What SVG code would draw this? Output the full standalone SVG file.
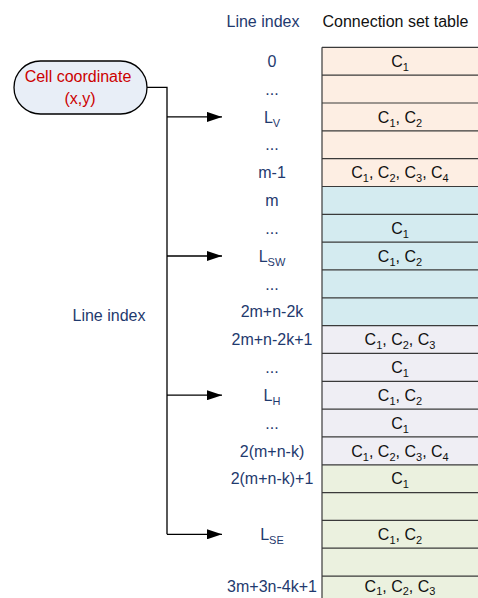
<svg xmlns="http://www.w3.org/2000/svg" width="478" height="598" viewBox="0 0 478 598">
<defs>
<marker id="ah" markerWidth="15" markerHeight="10" refX="15" refY="5" orient="auto" markerUnits="userSpaceOnUse">
<path d="M0,0 L15,5 L0,10 Z" fill="#000"/>
</marker>
<style>
text{font-family:"Liberation Sans",Arial,sans-serif;font-size:16px}
.idx{fill:#1F3A6E;text-anchor:middle}
.tb{fill:#111;text-anchor:middle}
.hd{fill:#111}
.sub{font-size:11px}
.row{stroke:#3a3a3a;stroke-width:1.2}
.conn{fill:none;stroke:#000;stroke-width:1.3}
</style>
</defs>
<rect width="478" height="598" fill="#fff"/>

<g id="table">
<rect x="322" y="47.3" width="160" height="139.2" fill="#FDEEE3"/>
<rect x="322" y="186.5" width="160" height="139.2" fill="#D4EBF0"/>
<rect x="322" y="325.6" width="160" height="139.2" fill="#EFEEF4"/>
<rect x="322" y="464.8" width="160" height="139.2" fill="#EBF1DF"/>
<line class="row" x1="322" y1="47.3" x2="478" y2="47.3" stroke-width="1.6"/>
<line class="row" x1="322" y1="75.1" x2="478" y2="75.1"/>
<line class="row" x1="322" y1="103" x2="478" y2="103"/>
<line class="row" x1="322" y1="130.8" x2="478" y2="130.8"/>
<line class="row" x1="322" y1="158.6" x2="478" y2="158.6"/>
<line class="row" x1="322" y1="186.5" x2="478" y2="186.5"/>
<line class="row" x1="322" y1="214.3" x2="478" y2="214.3"/>
<line class="row" x1="322" y1="242.1" x2="478" y2="242.1"/>
<line class="row" x1="322" y1="269.9" x2="478" y2="269.9"/>
<line class="row" x1="322" y1="297.8" x2="478" y2="297.8"/>
<line class="row" x1="322" y1="325.6" x2="478" y2="325.6"/>
<line class="row" x1="322" y1="353.4" x2="478" y2="353.4"/>
<line class="row" x1="322" y1="381.3" x2="478" y2="381.3"/>
<line class="row" x1="322" y1="409.1" x2="478" y2="409.1"/>
<line class="row" x1="322" y1="436.9" x2="478" y2="436.9"/>
<line class="row" x1="322" y1="464.8" x2="478" y2="464.8"/>
<line class="row" x1="322" y1="492.6" x2="478" y2="492.6"/>
<line class="row" x1="322" y1="520.4" x2="478" y2="520.4"/>
<line class="row" x1="322" y1="548.2" x2="478" y2="548.2"/>
<line class="row" x1="322" y1="576.1" x2="478" y2="576.1"/>
<line class="row" x1="322" y1="47.3" x2="322" y2="598"/>

<text class="tb" x="400" y="66.9">C<tspan class="sub" dy="4">1</tspan></text>
<text class="tb" x="400" y="122.6">C<tspan class="sub" dy="4">1</tspan><tspan dy="-4">, C</tspan><tspan class="sub" dy="4">2</tspan></text>
<text class="tb" x="400" y="178.2">C<tspan class="sub" dy="4">1</tspan><tspan dy="-4">, C</tspan><tspan class="sub" dy="4">2</tspan><tspan dy="-4">, C</tspan><tspan class="sub" dy="4">3</tspan><tspan dy="-4">, C</tspan><tspan class="sub" dy="4">4</tspan></text>
<text class="tb" x="400" y="233.9">C<tspan class="sub" dy="4">1</tspan></text>
<text class="tb" x="400" y="261.7">C<tspan class="sub" dy="4">1</tspan><tspan dy="-4">, C</tspan><tspan class="sub" dy="4">2</tspan></text>
<text class="tb" x="400" y="345.2">C<tspan class="sub" dy="4">1</tspan><tspan dy="-4">, C</tspan><tspan class="sub" dy="4">2</tspan><tspan dy="-4">, C</tspan><tspan class="sub" dy="4">3</tspan></text>
<text class="tb" x="400" y="373">C<tspan class="sub" dy="4">1</tspan></text>
<text class="tb" x="400" y="400.9">C<tspan class="sub" dy="4">1</tspan><tspan dy="-4">, C</tspan><tspan class="sub" dy="4">2</tspan></text>
<text class="tb" x="400" y="428.7">C<tspan class="sub" dy="4">1</tspan></text>
<text class="tb" x="400" y="456.5">C<tspan class="sub" dy="4">1</tspan><tspan dy="-4">, C</tspan><tspan class="sub" dy="4">2</tspan><tspan dy="-4">, C</tspan><tspan class="sub" dy="4">3</tspan><tspan dy="-4">, C</tspan><tspan class="sub" dy="4">4</tspan></text>
<text class="tb" x="400" y="484.4">C<tspan class="sub" dy="4">1</tspan></text>
<text class="tb" x="400" y="540">C<tspan class="sub" dy="4">1</tspan><tspan dy="-4">, C</tspan><tspan class="sub" dy="4">2</tspan></text>
<text class="tb" x="400" y="592">C<tspan class="sub" dy="3">1</tspan><tspan dy="-3">, C</tspan><tspan class="sub" dy="3">2</tspan><tspan dy="-3">, C</tspan><tspan class="sub" dy="3">3</tspan></text>
</g>

<g id="headers">
<text class="idx" x="263" y="26.5">Line index</text>
<text class="hd" x="322.5" y="26.5">Connection set table</text>
</g>

<g id="line-index">
<text class="idx" x="272" y="66.9">0</text>
<text class="idx" x="272" y="94.7">...</text>
<text class="idx" x="272" y="122.6">L<tspan class="sub" dy="4">V</tspan></text>
<text class="idx" x="272" y="150.4">...</text>
<text class="idx" x="272" y="178.2">m-1</text>
<text class="idx" x="272" y="206.1">m</text>
<text class="idx" x="272" y="233.9">...</text>
<text class="idx" x="272" y="261.7">L<tspan class="sub" dy="4">SW</tspan></text>
<text class="idx" x="272" y="289.6">...</text>
<text class="idx" x="272" y="317.4">2m+n-2k</text>
<text class="idx" x="272" y="345.2">2m+n-2k+1</text>
<text class="idx" x="272" y="373">...</text>
<text class="idx" x="272" y="400.9">L<tspan class="sub" dy="4">H</tspan></text>
<text class="idx" x="272" y="428.7">...</text>
<text class="idx" x="272" y="456.5">2(m+n-k)</text>
<text class="idx" x="272" y="484.4">2(m+n-k)+1</text>
<text class="idx" x="272" y="540">L<tspan class="sub" dy="4">SE</tspan></text>
<text class="idx" x="272" y="592">3m+3n-4k+1</text>
</g>

<g id="left-label">
<text class="idx" x="109" y="320.5">Line index</text>
</g>

<g id="cell-coordinate">
<rect x="14" y="61" width="133" height="53" rx="26.5" ry="26.5" fill="#E8EEF7" stroke="#000" stroke-width="1.3"/>
<text x="78" y="81.5" fill="#CC0000" text-anchor="middle">Cell coordinate</text>
<text x="80" y="103.5" fill="#CC0000" text-anchor="middle">(x,y)</text>
</g>

<g id="connectors">
<path class="conn" d="M147,87.3 H167 V534.3"/>
<line class="conn" x1="167" y1="116.9" x2="222" y2="116.9" marker-end="url(#ah)"/>
<line class="conn" x1="167" y1="256" x2="222" y2="256" marker-end="url(#ah)"/>
<line class="conn" x1="167" y1="395.2" x2="222" y2="395.2" marker-end="url(#ah)"/>
<line class="conn" x1="167" y1="534.3" x2="222" y2="534.3" marker-end="url(#ah)"/>
</g>
</svg>
